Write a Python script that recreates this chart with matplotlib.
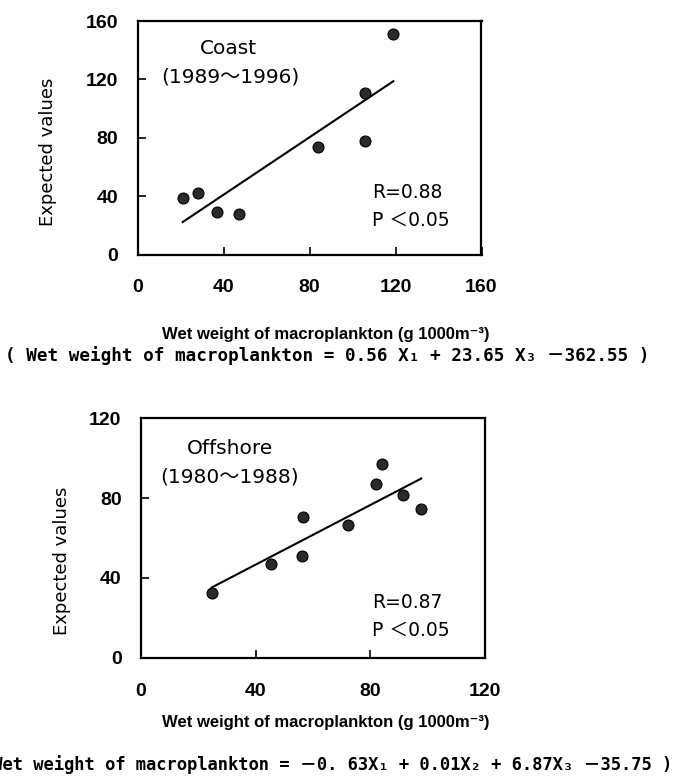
import numpy as np
import matplotlib
matplotlib.use("Agg")
import matplotlib.pyplot as plt

plt.rcParams['font.family'] = ['DejaVu Sans', 'Noto Sans CJK JP']
BOLDFAM = ['Liberation Sans', 'DejaVu Sans', 'Noto Sans CJK JP']
MONOFAM = ['DejaVu Sans Mono', 'DejaVu Sans', 'Noto Sans CJK JP']

# Data: coast (1989-1996)
coast_x = [21, 28, 37, 47, 84, 106, 106, 119]
coast_y = [39, 42, 29, 28, 74, 78, 111, 151]

# Data: offshore (1980-1988)
off_x = [24.7, 45.3, 56.4, 56.7, 72.3, 82.2, 84.2, 91.6, 97.9]
off_y = [32.5, 47.1, 50.8, 70.4, 66.3, 86.9, 97.3, 81.4, 74.4]

coast_ticks = [0, 40, 80, 120, 160]
off_ticks = [0, 40, 80, 120]

W, H = 679, 784
fig = plt.figure(figsize=(W / 100, H / 100), dpi=100)


def box(l, t, r, b):
    return [l / W, 1 - b / H, (r - l) / W, (b - t) / H]


def ftext(x, y, s, **kw):
    fig.text(x / W, 1 - y / H, s, **kw)


def panel(rect, xs, ys, ticks, lim):
    ax = fig.add_axes(rect)
    ax.scatter(xs, ys, s=62, color='#2a2a2a', edgecolors='black', linewidths=0.8, zorder=3)
    k, c = np.polyfit(xs, ys, 1)
    lx = np.array([min(xs), max(xs)])
    ax.plot(lx, k * lx + c, color='black', lw=1.5, zorder=2)
    ax.set_xlim(0, lim)
    ax.set_ylim(0, lim)
    ax.set_xticks(ticks)
    ax.set_yticks(ticks)
    ax.tick_params(direction='in', length=6, width=1.2, top=False, right=False)
    ax.tick_params(axis='x', pad=18)
    ax.tick_params(axis='y', pad=14)
    for lab in ax.get_xticklabels() + ax.get_yticklabels():
        lab.set_fontweight('bold')
        lab.set_family(BOLDFAM)
        lab.set_fontsize(14)
    for sp in ax.spines.values():
        sp.set_linewidth(1.6)
    return ax


ax1 = panel(box(137.5, 21, 481.5, 254.5), coast_x, coast_y, coast_ticks, 160)
ax2 = panel(box(141, 418.5, 484.5, 657.5), off_x, off_y, off_ticks, 120)

# y labels
ftext(48, 152, 'Expected values', fontsize=13, rotation=90, ha='center', va='center')
ftext(62, 561, 'Expected values', fontsize=13, rotation=90, ha='center', va='center')

# in-panel texts
ftext(228, 49, 'Coast', fontsize=14.5, ha='center', va='center')
ftext(230, 77, '(1989～1996)', fontsize=14.5, ha='center', va='center')
ftext(372, 192, 'R=0.88', fontsize=13.5, ha='left', va='center')
ftext(372, 220, 'P ＜0.05', fontsize=13.5, ha='left', va='center')

ftext(230, 448, 'Offshore', fontsize=14.5, ha='center', va='center')
ftext(230, 477, '(1980～1988)', fontsize=14.5, ha='center', va='center')
ftext(372, 602, 'R=0.87', fontsize=13.5, ha='left', va='center')
ftext(372, 630, 'P ＜0.05', fontsize=13.5, ha='left', va='center')

# axis titles and equations
xlab = 'Wet weight of macroplankton (g 1000m⁻³)'
eq_coast = '( Wet weight of macroplankton = 0.56 X₁ + 23.65 X₃ －362.55 )'
eq_off = '(Wet weight of macroplankton = －0. 63X₁ + 0.01X₂ + 6.87X₃ －35.75 )'

ftext(326, 335, xlab, fontsize=12, fontweight='bold', family=BOLDFAM,
      ha='center', va='center')
ftext(5, 356, eq_coast, fontsize=12.7, fontweight='bold', family=MONOFAM,
      ha='left', va='center')

ftext(326, 723, xlab, fontsize=12, fontweight='bold', family=BOLDFAM,
      ha='center', va='center')
ftext(672, 765, eq_off, fontsize=12.3, fontweight='bold', family=MONOFAM,
      ha='right', va='center')

fig.savefig('out.png', dpi=100)
